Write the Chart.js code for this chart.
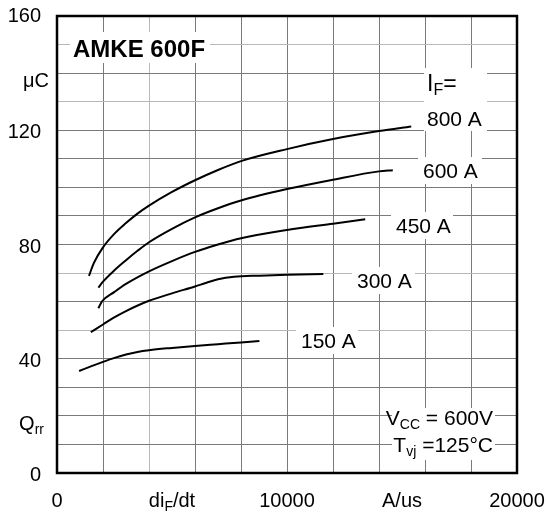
<!DOCTYPE html>
<html>
<head>
<meta charset="utf-8">
<script src="https://cdn.jsdelivr.net/npm/chart.js@4.4.1/dist/chart.umd.min.js"></script>
<style>
  html, body { margin: 0; padding: 0; background: #fff; }
  #wrap { width: 546px; height: 513px; }
</style>
</head>
<body>
<div id="wrap"><canvas id="qrr" width="546" height="513"></canvas></div>
<script>
// di_F/dt in A/us, Qrr in uC
const series = ['150 A', '300 A', '450 A', '600 A', '800 A'];

const didt150 = [960, 1500, 2000, 2500, 3000, 3500, 4000, 5000, 6000, 7000, 8000, 8800];
const qrr150 = [35.7, 37.4, 38.9, 40.3, 41.5, 42.4, 43.0, 43.8, 44.5, 45.1, 45.7, 46.2];

const didt300 = [1470, 2000, 2450, 3000, 4000, 5000, 6000, 6500, 7000, 7700, 8800, 10000, 11580];
const qrr300 = [49.3, 52.0, 54.3, 56.7, 60.3, 62.9, 65.3, 66.6, 67.8, 68.7, 69.1, 69.4, 69.7];

const didt450 = [1800, 1950, 2500, 3000, 4000, 5000, 6000, 7000, 8000, 10000, 12000, 13400];
const qrr450 = [57.7, 60.0, 63.4, 66.2, 70.6, 74.2, 77.4, 80.0, 82.2, 85.1, 87.3, 88.8];

const didt600 = [1800, 2000, 2500, 3000, 3500, 4000, 5000, 6000, 7000, 8000, 10000, 12000, 14000, 14600];
const qrr600 = [64.9, 67.0, 71.0, 74.5, 77.8, 80.8, 85.5, 89.5, 92.7, 95.4, 99.4, 102.7, 105.6, 106.0];

const didt800 = [1390, 1600, 2000, 2500, 3000, 3500, 4000, 5000, 6000, 7000, 8000, 10000, 12000, 14000, 15400];
const qrr800 = [69.0, 73.5, 79.0, 83.8, 87.5, 90.8, 93.6, 98.4, 102.5, 106.1, 109.2, 113.4, 116.9, 119.7, 121.3];

const xTickValues = [0, 5000, 10000, 15000, 20000];
const xTickLabels = ['0', 'di_{F}/dt', '10000', 'A/us', '20000'];
const yTickValues = [0, 20, 40, 80, 120, 140, 160];
const yTickLabels = ['0', 'Q_{rr}', '40', '80', '120', 'μC', '160'];

const FONT = '"Liberation Sans", Arial, Helvetica, sans-serif';

function points(xs, ys) {
  return xs.map((x, i) => ({ x: x, y: ys[i] }));
}

// split "V_{CC} = 600V" into normal and subscript runs
function richParts(str) {
  const parts = [];
  const re = /_\{([^}]*)\}/g;
  let last = 0, m;
  while ((m = re.exec(str)) !== null) {
    if (m.index > last) parts.push({ t: str.slice(last, m.index), sub: false });
    parts.push({ t: m[1], sub: true });
    last = re.lastIndex;
  }
  if (last < str.length) parts.push({ t: str.slice(last), sub: false });
  return parts;
}

function drawRich(ctx, str, x, y, size, align, bold) {
  const parts = richParts(str);
  const subSize = Math.round(size * 0.68);
  const w = parts.map(p => {
    ctx.font = (bold ? 'bold ' : '') + (p.sub ? subSize : size) + 'px ' + FONT;
    return ctx.measureText(p.t).width;
  });
  const total = w.reduce((a, b) => a + b, 0);
  let cx = x;
  if (align === 'right') cx = x - total;
  if (align === 'center') cx = x - total / 2;
  ctx.textBaseline = 'alphabetic';
  ctx.textAlign = 'left';
  ctx.fillStyle = '#000';
  parts.forEach((p, i) => {
    ctx.font = (bold ? 'bold ' : '') + (p.sub ? subSize : size) + 'px ' + FONT;
    ctx.fillText(p.t, cx, p.sub ? y + 4 : y);
    cx += w[i];
  });
  return total;
}

// text inside the plot, on white patches that cut the grid
const notes = [
  { t: 'AMKE 600F', x: 73, y: 57, align: 'left', size: 24, bold: true, box: [70, 32, 210, 63] },
  { t: 'I_{F}=', x: 427, y: 91, align: 'left', size: 23, box: [424, 68, 487, 131] },
  { t: series[4], x: 427, y: 126, align: 'left', size: 21 },
  { t: series[3], x: 423, y: 178, align: 'left', size: 21, box: [418, 157, 482, 184] },
  { t: series[2], x: 396, y: 233, align: 'left', size: 21, box: [391, 212, 453, 239] },
  { t: series[1], x: 357, y: 288, align: 'left', size: 21, box: [352, 267, 415, 294] },
  { t: series[0], x: 301, y: 348, align: 'left', size: 21, box: [296, 327, 358, 354] },
  { t: 'V_{CC} = 600V', x: 493, y: 425, align: 'right', size: 21, box: [392, 408, 495, 460] },
  { t: 'T_{vj} =125°C', x: 493, y: 452, align: 'right', size: 21 }
];

const lightX = [4000];
const lightY = [50, 70, 130, 150];

const paperPlugin = {
  id: 'paper',
  beforeDatasetsDraw(chart) {
    const ctx = chart.ctx;
    ctx.save();
    ctx.fillStyle = '#fff';
    notes.forEach(n => {
      if (n.box) ctx.fillRect(n.box[0], n.box[1], n.box[2] - n.box[0], n.box[3] - n.box[1]);
    });
    notes.forEach(n => drawRich(ctx, n.t, n.x, n.y, n.size, n.align, n.bold));
    ctx.restore();
  },
  afterDatasetsDraw(chart) {
    const ctx = chart.ctx;
    const a = chart.chartArea;
    const xs = chart.scales.x, ys = chart.scales.y;
    ctx.save();
    ctx.strokeStyle = '#000';
    ctx.lineWidth = 2.5;
    ctx.strokeRect(a.left, a.top, a.right - a.left, a.bottom - a.top);

    xTickValues.forEach((v, i) => {
      drawRich(ctx, xTickLabels[i], xs.getPixelForValue(v), 507, 20, 'center', false);
    });
    const nudge = { 160: -2, 140: 6, 20: 6 };
    const rightEdge = { 140: 49, 20: 44 };
    yTickValues.forEach((v, i) => {
      const y = ys.getPixelForValue(v) + 8 + (nudge[v] || 0);
      drawRich(ctx, yTickLabels[i], rightEdge[v] || 41, y, 20, 'right', false);
    });
    ctx.restore();
  }
};

const lineStyle = {
  borderColor: '#000',
  borderWidth: 2,
  pointRadius: 0,
  fill: false,
  cubicInterpolationMode: 'monotone'
};

new Chart(document.getElementById('qrr'), {
  type: 'line',
  data: {
    datasets: [
      Object.assign({ label: series[0], data: points(didt150, qrr150) }, lineStyle),
      Object.assign({ label: series[1], data: points(didt300, qrr300) }, lineStyle),
      Object.assign({ label: series[2], data: points(didt450, qrr450) }, lineStyle),
      Object.assign({ label: series[3], data: points(didt600, qrr600) }, lineStyle),
      Object.assign({ label: series[4], data: points(didt800, qrr800) }, lineStyle)
    ]
  },
  options: {
    responsive: false,
    animation: false,
    layout: { padding: { left: 57, right: 29, top: 16, bottom: 40 } },
    plugins: { legend: { display: false }, tooltip: { enabled: false } },
    scales: {
      x: {
        type: 'linear', min: 0, max: 20000,
        border: { display: false },
        ticks: { display: false, stepSize: 1000 },
        grid: {
          drawTicks: false,
          lineWidth: 1,
          color: c => {
            const v = c.tick.value;
            if (v % 2000 !== 0) return 'rgba(0,0,0,0)';
            return lightX.includes(v) ? '#b8b8b8' : '#7a7a7a';
          }
        }
      },
      y: {
        type: 'linear', min: 0, max: 160,
        border: { display: false },
        ticks: { display: false, stepSize: 10 },
        grid: {
          drawTicks: false,
          lineWidth: 1,
          color: c => lightY.includes(c.tick.value) ? '#b8b8b8' : '#7a7a7a'
        }
      }
    }
  },
  plugins: [paperPlugin]
});
</script>
</body>
</html>
